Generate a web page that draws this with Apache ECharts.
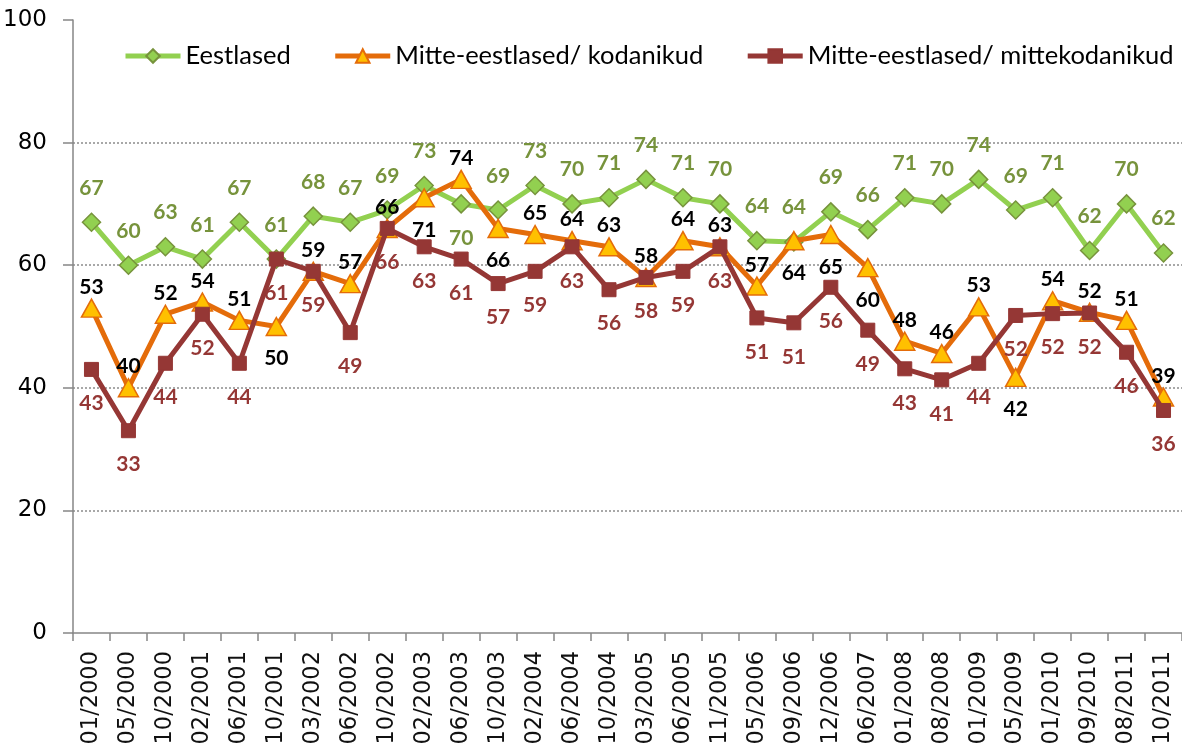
<!DOCTYPE html>
<html>
<head>
<meta charset="utf-8">
<script src="https://cdn.jsdelivr.net/npm/echarts@6/dist/echarts.min.js"></script>
<style>
  html, body { margin: 0; padding: 0; background: #fff; }
  #chart { width: 1182px; height: 743px; }
</style>
</head>
<body>
<div id="chart"></div>
<script>
const categories = ['01/2000', '05/2000', '10/2000', '02/2001', '06/2001', '10/2001', '03/2002', '06/2002',
  '10/2002', '02/2003', '06/2003', '10/2003', '02/2004', '06/2004', '10/2004', '03/2005', '06/2005',
  '11/2005', '05/2006', '09/2006', '12/2006', '06/2007', '01/2008', '08/2008', '01/2009', '05/2009',
  '01/2010', '09/2010', '08/2011', '10/2011'];

const eestlased = [67, 60, 63, 61, 67, 61, 68, 67, 69, 73, 70, 69, 73, 70, 71, 74, 71, 70, 64, 63.8,
  68.7, 65.8, 71, 70, 74, 69, 71, 62.4, 70, 62];
const kodanikud = [53, 40, 52, 54, 51, 50, 59, 57, 66, 71, 74, 66, 65, 64, 63, 58, 64, 63, 56.6, 64,
  65, 59.6, 47.6, 45.6, 53.2, 41.7, 54.2, 52.3, 51, 38.5];
const mittekodanikud = [43, 33, 44, 52, 44, 61, 59, 49, 66, 63, 61, 57, 59, 63, 56, 58, 59, 63, 51.4, 50.6,
  56.4, 49.4, 43.1, 41.3, 44, 51.8, 52.1, 52.2, 45.8, 36.3];

const seriesNames = ['Eestlased', 'Mitte-eestlased/ kodanikud', 'Mitte-eestlased/ mittekodanikud'];
const yTicks = [0, 20, 40, 60, 80, 100];

// which points have their label under the marker
const eestlasedBelow = [10];
const kodanikudBelow = [5, 9, 11, 19, 20, 21, 25];

const labelFont = { fontFamily: 'Lato', fontWeight: 'bold', fontSize: 21 };

function buildData(values, below, topDist, bottomDist) {
  return values.map((v, i) => {
    if (below === 'all' || below.includes(i)) {
      return { value: v, label: { position: 'bottom', distance: bottomDist } };
    }
    return { value: v, label: { position: 'top', distance: topDist } };
  });
}

const chart = echarts.init(document.getElementById('chart'));

chart.setOption({
  animation: false,
  backgroundColor: '#fff',
  grid: { left: 73, right: 0, top: 20, bottom: 110, containLabel: false, outerBoundsMode: 'none' },
  legend: {
    left: 118,
    top: 38,
    width: 1060,
    itemWidth: 55,
    itemHeight: 17,
    itemGap: 42,
    lineStyle: { width: 5 },
    textStyle: { fontFamily: 'Lato', fontSize: 25.5, color: '#000' },
    data: seriesNames
  },
  xAxis: {
    type: 'category',
    data: categories,
    boundaryGap: true,
    axisLine: { lineStyle: { color: '#868686', width: 1.5 } },
    axisTick: { show: true, interval: 0, length: 8, lineStyle: { color: '#868686', width: 1.5 } },
    axisLabel: {
      interval: 0,
      rotate: 90,
      margin: 18,
      fontFamily: 'DejaVu Sans, sans-serif',
      fontSize: 22.5,
      color: '#111'
    }
  },
  yAxis: {
    type: 'value',
    min: yTicks[0],
    max: yTicks[yTicks.length - 1],
    interval: 20,
    axisLine: { show: true, lineStyle: { color: '#868686', width: 1.5 } },
    axisTick: { show: true, length: 10, lineStyle: { color: '#868686', width: 1.5 } },
    axisLabel: { margin: 26, fontFamily: 'DejaVu Sans, sans-serif', fontSize: 23, color: '#000' },
    splitLine: {
      show: true,
      lineStyle: {
        type: [2, 2],
        width: 1.5,
        color: ['transparent', '#8c8c8c', '#8c8c8c', '#8c8c8c', '#8c8c8c', 'transparent']
      }
    }
  },
  series: [
    {
      name: seriesNames[0],
      type: 'line',
      data: buildData(eestlased, eestlasedBelow, 14, 14),
      symbol: 'diamond',
      symbolSize: 18,
      lineStyle: { color: '#92D050', width: 5 },
      itemStyle: { color: '#92D050', borderColor: '#77933C', borderWidth: 1.5 },
      label: Object.assign({ show: true, color: '#77933C', formatter: (p) => Math.round(p.value) }, labelFont),
      z: 2
    },
    {
      name: seriesNames[1],
      type: 'line',
      data: buildData(kodanikud, kodanikudBelow, 1, 12),
      symbol: 'triangle',
      symbolSize: [20, 18],
      lineStyle: { color: '#E46C0A', width: 5 },
      itemStyle: { color: '#FFC000', borderColor: '#E46C0A', borderWidth: 1.5 },
      label: Object.assign({ show: true, color: '#000', formatter: (p) => Math.round(p.value) }, labelFont),
      z: 3
    },
    {
      name: seriesNames[2],
      type: 'line',
      data: buildData(mittekodanikud, 'all', 14, 16),
      symbol: 'rect',
      symbolSize: 14,
      lineStyle: { color: '#953735', width: 5 },
      itemStyle: { color: '#953735', borderColor: '#953735', borderWidth: 1 },
      label: Object.assign({ show: true, color: '#953735', formatter: (p) => Math.round(p.value) }, labelFont),
      z: 4
    }
  ]
});
</script>
</body>
</html>
